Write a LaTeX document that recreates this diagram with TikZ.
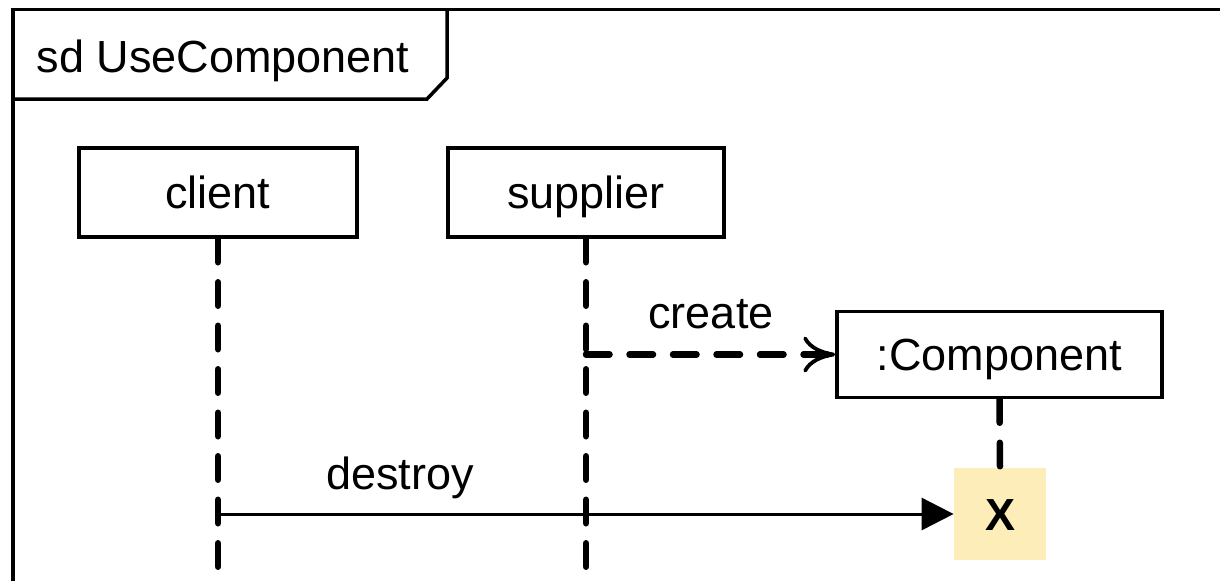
\documentclass[tikz,border=0pt]{standalone}
\usepackage{fontspec}
\setmainfont{Liberation Sans}
\usetikzlibrary{arrows.meta}
\definecolor{destroyfill}{HTML}{FCEDB9}
\begin{document}
\begin{tikzpicture}[x=0.5pt,y=-0.5pt,
  font=\fontsize{22.5pt}{27pt}\selectfont,
  frameline/.style={line width=1.75pt, line join=miter},
  lifebox/.style={draw, line width=1.75pt, minimum height=44.5pt, inner sep=0pt,
    text height=20pt, text depth=4pt},
  lifeline/.style={line width=3.25pt, line cap=round, dash pattern=on 11.75pt off 10pt},
  createmsg/.style={lifeline, -{Computer Modern Rightarrow[length=16pt,width=18pt,line width=1.9pt]}},
  syncmsg/.style={line width=1.5pt, -{Triangle[length=16pt,width=16pt]}},
  msglabel/.style={anchor=base, inner sep=0pt},
  destroymark/.style={fill=destroyfill, minimum width=46pt, minimum height=46pt, inner sep=0pt,
    text height=16pt, text depth=0pt, font=\fontsize{22.5pt}{27pt}\selectfont\bfseries}
]
\useasboundingbox (0,0) rectangle (1220,580);
\clip (0,0) rectangle (1220,580);

% frame of the interaction with its name tab
\coordinate (frameBL) at (13,620);
\coordinate (frameTL) at (13,9.5);
\coordinate (frameTR) at (1240,9.5);
\draw[frameline] (frameBL) -- (frameTL) -- (frameTR);
\coordinate (tabA) at (13,99);
\coordinate (tabB) at (427,99);
\coordinate (tabC) at (447,78);
\coordinate (tabD) at (447,9.5);
\draw[frameline] (tabA) -- (tabB) -- (tabC) -- (tabD);
\node[msglabel] (title) at (223,72) {sd UseComponent};

% lifeline heads
\node[lifebox, minimum width=139pt] (client) at (218,192.5) {client};
\node[lifebox, minimum width=138pt] (supplier) at (586,192.5) {supplier};
\node[lifebox, minimum width=162.5pt, minimum height=43pt] (comp) at (999.5,354.5) {:Component};

% destruction occurrence
\node[destroymark] (xbox) at (1000,514) {X};

% lifelines
\coordinate (clientend) at (218,620);
\coordinate (supplierend) at (586,620);
\draw[lifeline] (client.south) -- (clientend);
\draw[lifeline] (supplier.south) -- (supplierend);
\draw[lifeline] (comp.south) -- (xbox.north);

% create message
\coordinate (createfrom) at (supplier.south |- comp.west);
\draw[createmsg] (createfrom) -- (comp.west);
\node[msglabel] (createlbl) at (711,328) {create};

% destroy message
\coordinate (destroyfrom) at (client.south |- xbox.west);
\draw[syncmsg] (destroyfrom) -- (xbox.west);
\node[msglabel] (destroylbl) at (400,489) {destroy};
\end{tikzpicture}
\end{document}
